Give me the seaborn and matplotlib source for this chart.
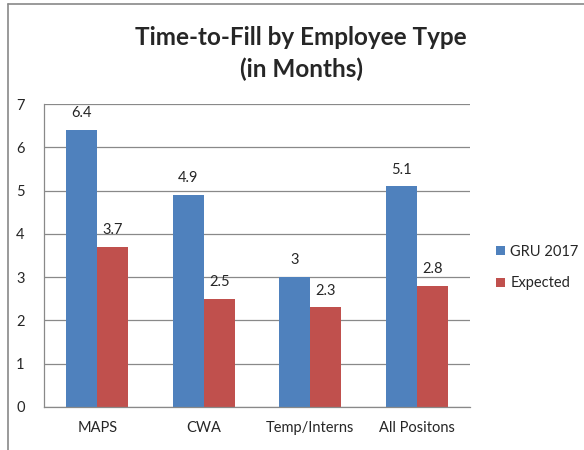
import matplotlib
matplotlib.use("Agg")
import matplotlib.pyplot as plt
import seaborn as sns
import pandas as pd
from matplotlib.lines import Line2D

categories = ["MAPS", "CWA", "Temp/Interns", "All Positons"]
series_names = ["GRU 2017", "Expected"]
gru_2017 = [6.4, 4.9, 3, 5.1]
expected = [3.7, 2.5, 2.3, 2.8]
value_labels_gru = ["6.4", "4.9", "3", "5.1"]
value_labels_exp = ["3.7", "2.5", "2.3", "2.8"]
yticks = [0, 1, 2, 3, 4, 5, 6, 7]

sns.set_theme(style="white")
plt.rcParams['font.family'] = ['Lato', 'DejaVu Sans']

df = pd.DataFrame({
    "category": categories * 2,
    "series": [series_names[0]] * 4 + [series_names[1]] * 4,
    "value": gru_2017 + expected,
})

fig = plt.figure(figsize=(5.84, 4.5), dpi=100)
ax = fig.add_axes([44 / 584, 1 - 407 / 450, 426 / 584, 303 / 450])

sns.barplot(data=df, x="category", y="value", hue="series",
            palette=["#4F81BD", "#C0504D"], width=0.58, gap=0,
            saturation=1, ax=ax, errorbar=None, legend=True, linewidth=0)

ax.set_ylim(0, 7)
ax.set_xlim(-0.5, 3.5)
ax.set_yticks(yticks)
ax.set_yticklabels([str(t) for t in yticks], fontsize=10.5)
ax.tick_params(axis='y', length=0, pad=14)
ax.tick_params(axis='x', length=0, pad=10, labelsize=10.5)
ax.set_xlabel("")
ax.set_ylabel("")
ax.yaxis.grid(True, color="#898989", linewidth=0.9)
ax.set_axisbelow(True)
for s in ["top", "right"]:
    ax.spines[s].set_visible(False)
for s in ["left", "bottom"]:
    ax.spines[s].set_color("#898989")
    ax.spines[s].set_linewidth(0.9)

labels_all = [value_labels_gru, value_labels_exp]
for cont, labs in zip(ax.containers, labels_all):
    ax.bar_label(cont, labels=labs, padding=7, fontsize=10.5)

leg = ax.legend(loc="center left", bbox_to_anchor=(1.03, 0.46), frameon=False,
                fontsize=10.5, handlelength=0.6, handleheight=0.6,
                handletextpad=0.4, labelspacing=1.2)

fig.text(301 / 584, 1 - 53.5 / 450, "Time-to-Fill by Employee Type\n(in Months)",
         ha="center", va="center", fontsize=17.5, fontweight="bold",
         linespacing=1.42)

bx = 7.5 / 584
by = 1 - 3.5 / 450
fig.add_artist(Line2D([bx, bx], [0, by], transform=fig.transFigure,
                      color="#898989", linewidth=1.2))
fig.add_artist(Line2D([bx, 1], [by, by], transform=fig.transFigure,
                      color="#898989", linewidth=1.2))

fig.savefig("out.png", dpi=100)
